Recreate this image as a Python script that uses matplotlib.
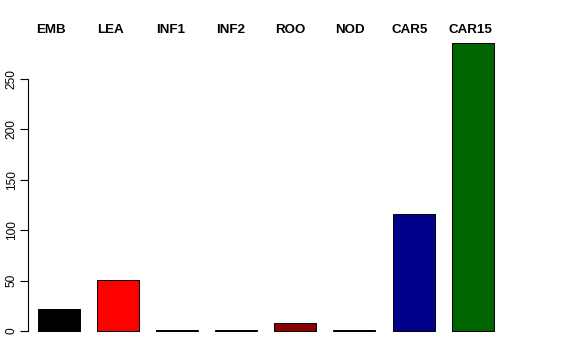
import numpy as np
import matplotlib.pyplot as plt

plt.rcParams['font.family'] = ['Liberation Sans', 'DejaVu Sans']

tissues = ['EMB', 'LEA', 'INF1', 'INF2', 'ROO', 'NOD', 'CAR5', 'CAR15']
counts = [21.5, 50.5, 1.0, 1.0, 7.5, 1.0, 116, 286]
colors = ['black', 'red', '#006400', '#00008B', '#8B0000', 'black', '#00008B', '#006400']
yticks = [0, 50, 100, 150, 200, 250]

fig = plt.figure(figsize=(5.76, 3.6), dpi=100)
# plot region in pixels: x 28..505, y 31..343 (from top)
ax = fig.add_axes([28/576, 17/360, 477/576, 312/360])

x = np.arange(len(tissues))
ax.bar(x, counts, width=0.71, color=colors, edgecolor='black', linewidth=0.7)

ax.set_xlim(-0.52, 7.546)
ax.set_ylim(-11.9, 297.6)

for s in ['top', 'right', 'bottom']:
    ax.spines[s].set_visible(False)
ax.spines['left'].set_bounds(0, 250)
ax.spines['left'].set_linewidth(0.8)

ax.set_xticks([])
ax.set_yticks(yticks)
ax.set_yticklabels([str(v) for v in yticks], rotation=90, va='center', fontsize=8.6)
ax.tick_params(axis='y', length=5.5, width=0.8, pad=2)

# bold labels across the top
for i, name in enumerate(tissues):
    off = -0.13 + 0.012 * i
    ax.text(i + off, 1.0 + 1/312, name, transform=ax.get_xaxis_transform(),
            ha='center', va='center', fontsize=9.6, fontweight='bold')

fig.savefig('out.png', dpi=100)
